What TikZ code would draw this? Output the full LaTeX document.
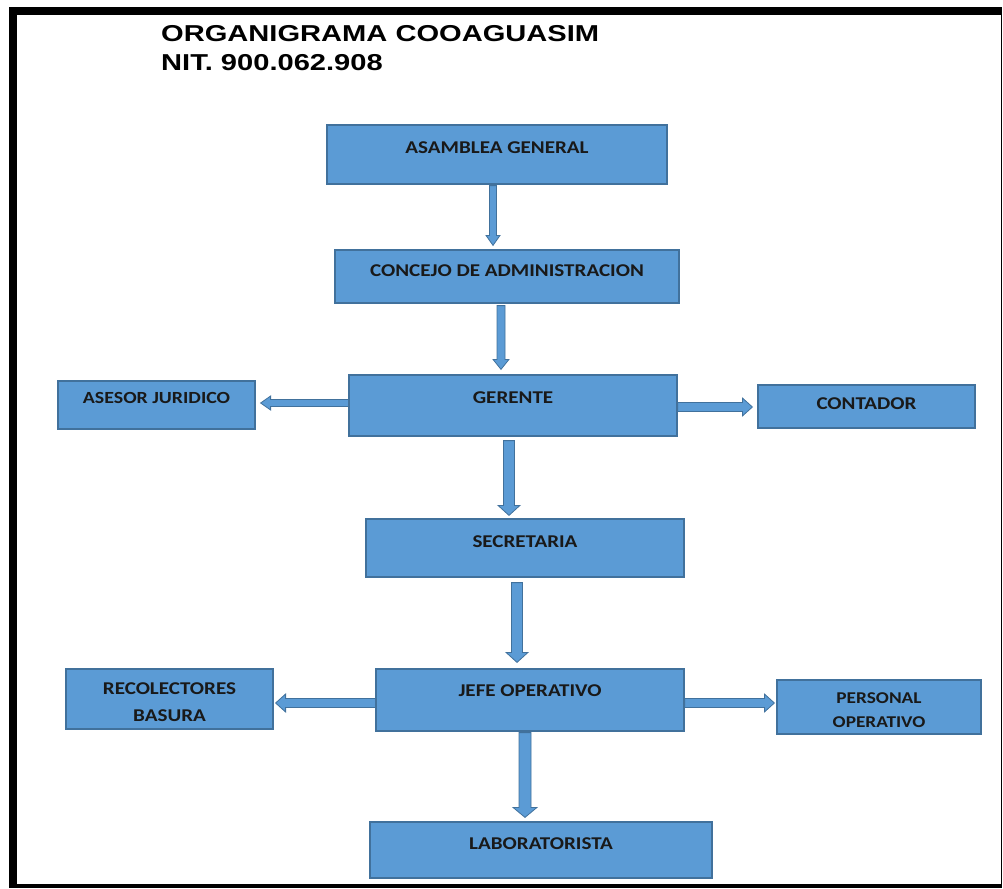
\documentclass[tikz,border=0pt]{standalone}
\usepackage{fontspec}
\usepackage{tikz}
\usetikzlibrary{calc}
\usetikzlibrary{positioning}
\newfontfamily\titulofont[FakeStretch=1.265]{Liberation Sans}
\newfontfamily\cajafont[FakeStretch=1.17]{Carlito}
\definecolor{azulcaja}{HTML}{5B9BD5}
\definecolor{bordecaja}{HTML}{41719C}
\newcommand{\flechav}[3][4.5]{%
	\filldraw[flecha] let \p1=#2, \p2=#3, \p3=($(\x1,\y2)!10pt!(\p1)$) in
		(\x1-#1pt,\y1) -- (\x1-#1pt,\y3) -- (\x1-2*#1pt,\y3) -- (\x1,\y2)
		-- (\x1+2*#1pt,\y3) -- (\x1+#1pt,\y3) -- (\x1+#1pt,\y1) -- cycle;}
\newcommand{\flechah}[3][4.5]{%
	\filldraw[flecha] let \p1=#2, \p2=#3, \p3=($(\x2,\y1)!10pt!(\p1)$) in
		(\x1,\y1+#1pt) -- (\x3,\y1+#1pt) -- (\x3,\y1+2*#1pt) -- (\x2,\y1)
		-- (\x3,\y1-2*#1pt) -- (\x3,\y1-#1pt) -- (\x1,\y1-#1pt) -- cycle;}

\begin{document}
\begin{tikzpicture}[x=1pt, y=-1pt,
	caja/.style={rectangle, draw=bordecaja, fill=azulcaja, line width=1.2pt, inner sep=0pt, align=center, text=black!90, font=\cajafont\bfseries\fontsize{18}{21.6}\selectfont, text height=11.6pt},
	titulo/.style={anchor=base west, inner sep=0pt, font=\titulofont\bfseries\fontsize{23}{30}\selectfont},
	flecha/.style={draw=bordecaja, fill=azulcaja, line width=0.8pt}]
	\useasboundingbox (0,0) rectangle (1003,888);
	\fill (9,7) rectangle (17,888);
	\fill (9,7) rectangle (1002,15);
	\fill (9,884) rectangle (1002,888);
	\fill (1000.5,7) rectangle (1002,888);

	\node[titulo] (titulo) at (161,41.7) {ORGANIGRAMA COOAGUASIM};
	\node[titulo] (nit) at (161,71) {NIT. 900.062.908};

	\node[caja, minimum width=340pt, minimum height=59pt, text depth=13pt] (asamblea) at (497,154.5) {ASAMBLEA GENERAL};
	\node[caja, minimum width=344pt, minimum height=53pt, text depth=11pt] (concejo) at (507,276.5) {CONCEJO DE ADMINISTRACION};
	\node[caja, minimum width=328pt, minimum height=61pt, text depth=15pt] (gerente) at (513,405.5) {GERENTE};
	\node[caja, minimum width=197pt, minimum height=48pt, text depth=14pt, text height=10.9pt, font=\cajafont\bfseries\fontsize{17}{20.4}\selectfont] (asesor) at (156.5,405) {ASESOR JURIDICO};
	\node[caja, minimum width=217pt, minimum height=43pt, text depth=5pt] (contador) at (866.5,406.5) {CONTADOR};
	\node[caja, minimum width=318pt, minimum height=58pt, text depth=12pt] (secretaria) at (525,548) {SECRETARIA};
	\node[caja, minimum width=308pt, minimum height=62pt, text depth=18pt] (jefe) at (530,700) {JEFE OPERATIVO};
	\node[caja, minimum width=207pt, minimum height=60pt, text height=45.6pt, text depth=0pt, font=\cajafont\bfseries\fontsize{18}{27}\selectfont] (recolectores) at (169.5,699) {RECOLECTORES\\BASURA};
	\node[caja, minimum width=204pt, minimum height=54pt, text height=40.6pt, text depth=0pt, font=\cajafont\bfseries\fontsize{16.5}{24}\selectfont] (personal) at (879,707) {PERSONAL\\OPERATIVO};
	\node[caja, minimum width=342pt, minimum height=56pt, text depth=12pt] (lab) at (541,850) {LABORATORISTA};

	\flechav[3.5]{($(asamblea.south)+(-4,1)$)}{($(concejo.north)+(0,-4)$)}
	\flechav[4]{($(concejo.south)+(-6,2)$)}{($(gerente.north)+(0,-5)$)}
	\flechah[3.5]{($(gerente.west)+(0,-2.5)$)}{($(asesor.east)+(5,0)$)}
	\flechah[4.5]{($(gerente.east)+(0,1.5)$)}{($(contador.west)+(-5,0)$)}
	\flechav[5.5]{($(gerente.south)+(-4,4)$)}{($(secretaria.north)+(0,-3)$)}
	\flechav[5.5]{($(secretaria.south)+(-8,5)$)}{($(jefe.north)+(0,-6)$)}
	\flechah[4.5]{($(jefe.west)+(0,3)$)}{($(recolectores.east)+(2,0)$)}
	\flechah[4.5]{($(jefe.east)+(0,3)$)}{($(personal.west)+(-2,0)$)}
	\flechav[6]{($(jefe.south)+(-5,1)$)}{($(lab.north)+(0,-4)$)}
\end{tikzpicture}
\end{document}
